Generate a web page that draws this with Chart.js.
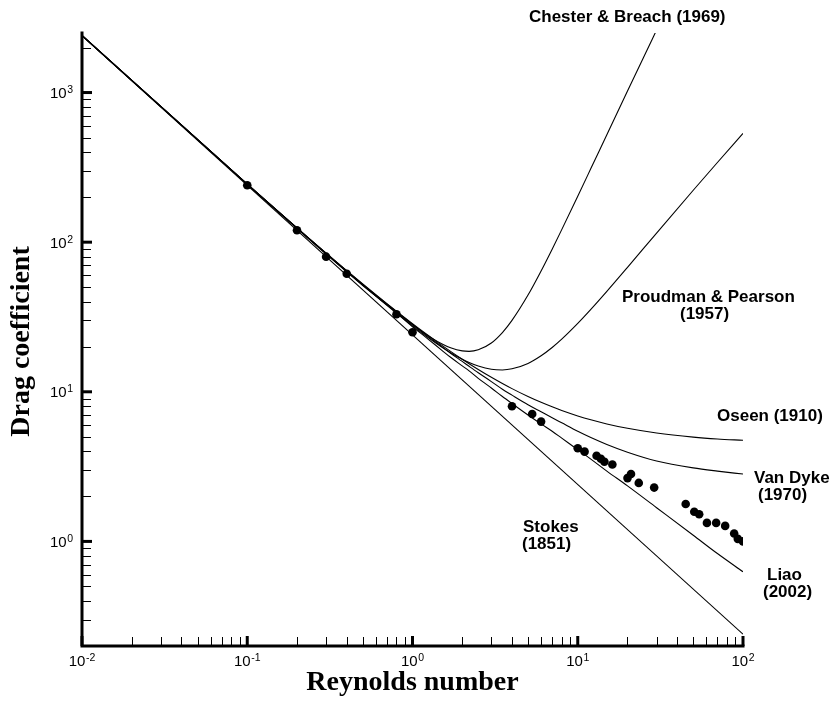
<!DOCTYPE html>
<html>
<head>
<meta charset="utf-8">
<script src="https://cdn.jsdelivr.net/npm/chart.js@4.4.1/dist/chart.umd.min.js"></script>
<style>
  html, body { margin: 0; padding: 0; background: #fff; }
  canvas { display: block; }
</style>
</head>
<body>
<canvas id="chart" width="836" height="704"></canvas>
<script>
// values (log-log)
const reStokes = [0.01, 1, 100];
const cdStokes = [2400, 24, 0.24];

const reCurve = [0.01, 0.1, 0.3, 0.5, 0.7, 1, 1.2, 1.5, 1.7, 2, 2.2, 2.5, 3, 3.5, 4, 5, 6, 7, 8, 10, 12, 15, 20, 30, 50, 70, 100];
const cdOseen = [2404.5, 244.5, 84.5, 52.5, 38.79, 28.5, 24.5, 20.5, 18.62, 16.5, 15.41, 14.1, 12.5, 11.36, 10.5, 9.3, 8.5, 7.93, 7.5, 6.9, 6.5, 6.1, 5.7, 5.3, 4.98, 4.84, 4.74];
const cdProudman = [2404.5, 244.1, 83.7, 51.6, 37.79, 27.56, 23.67, 19.92, 18.24, 16.5, 15.69, 14.85, 14.14, 14.0, 14.24, 15.48, 17.4, 19.77, 22.47, 28.63, 35.53, 46.9, 67.9, 115.0, 222.3, 340.8, 533];
const cdVanDyke = [2404, 244.4, 84.3, 52.2, 38.6, 28.2, 24.1, 20.1, 18.1, 15.96, 14.8, 13.4, 11.7, 10.4, 9.5, 8.2, 7.35, 6.7, 6.2, 5.45, 4.95, 4.45, 3.95, 3.45, 3.1, 2.95, 2.82];
const cdLiao = [2403, 243.5, 83.2, 51.3, 38.2, 27.2, 23.2, 19.0, 17.0, 14.9, 13.8, 12.3, 10.6, 9.3, 8.35, 7.0, 6.1, 5.45, 4.9, 4.1, 3.55, 2.95, 2.35, 1.68, 1.1, 0.83, 0.627];

const reChester = [0.01, 0.1, 0.3, 0.5, 0.7, 1, 1.2, 1.5, 1.7, 2, 2.2, 2.5, 3, 3.5, 4, 5, 6, 7, 8, 10, 12, 15, 20, 25, 30];
const cdChester = [2404.5, 244.2, 83.9, 51.8, 38.06, 27.99, 24.28, 20.95, 19.69, 18.76, 18.64, 19.08, 21.2, 24.89, 30.0, 44.3, 64.21, 89.8, 121.3, 202.8, 310.3, 523, 1023, 1717, 2617];

const reExp = [0.1, 0.2, 0.3, 0.4, 0.8, 1, 4, 5.3, 6, 10, 11, 13, 13.8, 14.5, 16.2, 20, 21, 23.4, 29, 45, 50.7, 54.3, 60.5, 68.8, 78, 88.4, 93, 100];
const cdExp = [240, 120, 80, 61.5, 33, 25, 8.0, 7.1, 6.32, 4.19, 3.98, 3.74, 3.57, 3.41, 3.27, 2.65, 2.82, 2.46, 2.29, 1.78, 1.58, 1.52, 1.33, 1.33, 1.27, 1.13, 1.04, 1.0];

const xMajor = [0.01, 0.1, 1, 10, 100];
const xExponents = ["-2", "-1", "0", "1", "2"];
const yMajor = [1, 10, 100, 1000];
const yExponents = ["0", "1", "2", "3"];

const labels = [
  { lines: ["Chester & Breach (1969)"], x: [529], y: [22] },
  { lines: ["Proudman & Pearson", "(1957)"], x: [622, 680], y: [302, 319] },
  { lines: ["Oseen (1910)"], x: [717], y: [421] },
  { lines: ["Van Dyke", "(1970)"], x: [754, 758], y: [483, 500] },
  { lines: ["Stokes", "(1851)"], x: [523, 522], y: [532, 549] },
  { lines: ["Liao", "(2002)"], x: [767, 763], y: [580, 597] }
];

const pairs = (xs, ys) => xs.map((x, i) => ({ x, y: ys[i] }));

const lineStyle = {
  borderColor: "#000",
  borderWidth: 1.1,
  pointRadius: 0,
  fill: false,
  showLine: true,
  cubicInterpolationMode: "monotone"
};

const sansFont = '"Liberation Sans", Arial, Helvetica, sans-serif';
const serifFont = '"Liberation Serif", "Times New Roman", serif';

function drawPower(ctx, exp, left, baseline) {
  ctx.font = `15px ${sansFont}`;
  ctx.fillText("10", left, baseline);
  const w = ctx.measureText("10").width;
  ctx.font = `10.5px ${sansFont}`;
  ctx.fillText(exp, left + w + 0.5, baseline - 5);
}

function powerWidth(ctx, exp) {
  ctx.font = `15px ${sansFont}`;
  const w = ctx.measureText("10").width;
  ctx.font = `10.5px ${sansFont}`;
  return w + 0.5 + ctx.measureText(exp).width;
}

const axesPlugin = {
  id: "tecplotAxes",
  afterDatasetsDraw(chart) {
    const { ctx, chartArea, scales } = chart;
    const { left, right, top, bottom } = chartArea;
    const xs = scales.x;
    const ys = scales.y;
    ctx.save();
    ctx.strokeStyle = "#000";
    ctx.fillStyle = "#000";

    // axis lines
    ctx.lineWidth = 3;
    ctx.lineCap = "square";
    ctx.beginPath();
    ctx.moveTo(left, top);
    ctx.lineTo(left, bottom);
    ctx.lineTo(right, bottom);
    ctx.stroke();
    ctx.lineCap = "butt";

    // x ticks
    for (let d = 0; d < xMajor.length; d++) {
      const px = xs.getPixelForValue(xMajor[d]);
      ctx.lineWidth = 3;
      ctx.beginPath();
      ctx.moveTo(px, bottom);
      ctx.lineTo(px, bottom - 10);
      ctx.stroke();
      if (d < xMajor.length - 1) {
        ctx.lineWidth = 1;
        for (let m = 2; m <= 9; m++) {
          const mx = Math.round(xs.getPixelForValue(xMajor[d] * m)) + 0.5;
          ctx.beginPath();
          ctx.moveTo(mx, bottom);
          ctx.lineTo(mx, bottom - 9);
          ctx.stroke();
        }
      }
    }

    // y ticks
    const yMin = ys.min;
    const yMax = ys.max;
    for (let d = 0; d < yMajor.length; d++) {
      const py = ys.getPixelForValue(yMajor[d]);
      ctx.lineWidth = 3;
      ctx.beginPath();
      ctx.moveTo(left, py);
      ctx.lineTo(left + 10, py);
      ctx.stroke();
    }
    ctx.lineWidth = 1;
    [0.1, 1, 10, 100, 1000].forEach((base) => {
      for (let m = 2; m <= 9; m++) {
        const v = base * m;
        if (v <= yMin || v >= yMax) continue;
        const my = Math.round(ys.getPixelForValue(v)) + 0.5;
        ctx.beginPath();
        ctx.moveTo(left, my);
        ctx.lineTo(left + 9, my);
        ctx.stroke();
      }
    });

    // tick labels
    ctx.textAlign = "left";
    ctx.textBaseline = "alphabetic";
    xMajor.forEach((v, i) => {
      const px = xs.getPixelForValue(v);
      const w = powerWidth(ctx, xExponents[i]);
      drawPower(ctx, xExponents[i], px - w / 2, bottom + 20);
    });
    yMajor.forEach((v, i) => {
      const py = ys.getPixelForValue(v);
      const w = powerWidth(ctx, yExponents[i]);
      drawPower(ctx, yExponents[i], left - 9 - w, py + 5.5);
    });

    // axis titles
    ctx.font = `bold 28px ${serifFont}`;
    ctx.textAlign = "center";
    ctx.fillText("Reynolds number", (left + right) / 2, 690);
    ctx.save();
    ctx.translate(29, (top + bottom) / 2 + 2);
    ctx.rotate(-Math.PI / 2);
    ctx.fillText("Drag coefficient", 0, 0);
    ctx.restore();

    // curve labels
    ctx.font = `bold 17px ${sansFont}`;
    ctx.textAlign = "left";
    labels.forEach((lab) => {
      lab.lines.forEach((t, i) => ctx.fillText(t, lab.x[i], lab.y[i]));
    });

    ctx.restore();
  }
};

const hiddenAxis = {
  type: "logarithmic",
  display: true,
  grid: { display: false, drawTicks: false },
  border: { display: false },
  ticks: { display: false },
  afterFit(scale) {
    if (scale.isHorizontal()) scale.height = 0;
    else scale.width = 0;
  }
};

new Chart(document.getElementById("chart"), {
  type: "scatter",
  data: {
    datasets: [
      { ...lineStyle, label: "Stokes (1851)", data: pairs(reStokes, cdStokes), cubicInterpolationMode: "default", tension: 0 },
      { ...lineStyle, label: "Oseen (1910)", data: pairs(reCurve, cdOseen) },
      { ...lineStyle, label: "Proudman & Pearson (1957)", data: pairs(reCurve, cdProudman) },
      { ...lineStyle, label: "Chester & Breach (1969)", data: pairs(reChester, cdChester) },
      { ...lineStyle, label: "Van Dyke (1970)", data: pairs(reCurve, cdVanDyke) },
      { ...lineStyle, label: "Liao (2002)", data: pairs(reCurve, cdLiao) },
      {
        label: "Experiment",
        data: pairs(reExp, cdExp),
        showLine: false,
        pointRadius: 4.3,
        pointBackgroundColor: "#000",
        pointBorderColor: "#000",
        pointBorderWidth: 0
      }
    ]
  },
  options: {
    responsive: false,
    animation: false,
    devicePixelRatio: 1,
    layout: { padding: { left: 82, right: 93, top: 33, bottom: 58 } },
    plugins: {
      legend: { display: false },
      tooltip: { enabled: false },
      title: { display: false }
    },
    scales: {
      x: { ...hiddenAxis, position: "bottom", min: 0.01, max: 100 },
      y: { ...hiddenAxis, position: "left", min: 0.2, max: 2500 }
    }
  },
  plugins: [axesPlugin]
});
</script>
</body>
</html>
